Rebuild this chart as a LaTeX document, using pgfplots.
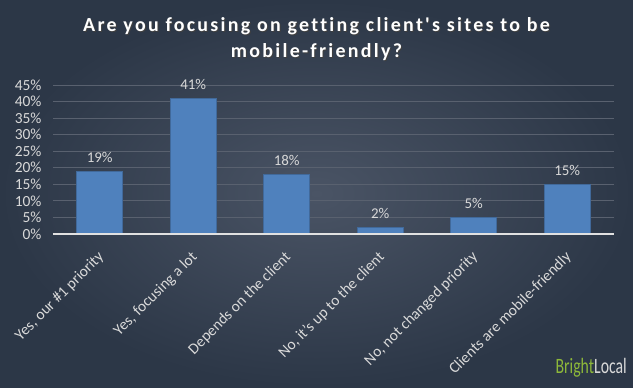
\documentclass[border=0pt]{standalone}
\usepackage{fontspec}
\setmainfont{Carlito}
\newfontfamily\titlefont[LetterSpace=11.5,Ligatures={NoCommon}]{Carlito}
\usepackage{graphicx}
\usepackage{pgfplots}
\pgfplotsset{compat=1.18}
\usetikzlibrary{backgrounds,calc}
\definecolor{bgin}{HTML}{4A5465}
\definecolor{bgout}{HTML}{2C3747}
\definecolor{barblue}{HTML}{4F81BD}
\definecolor{bardark}{HTML}{41699A}
\definecolor{txt}{HTML}{D9D9D9}
\definecolor{gridc}{HTML}{59616F}
\definecolor{blgreen}{HTML}{8DB83A}
\begin{document}
\begin{tikzpicture}[x=1bp,y=1bp]
\begin{axis}[
  name=ax,
  scale only axis, width=561bp, height=149bp,
  ybar, bar width=46bp,
  xmin=-0.5, xmax=5.5, ymin=0, ymax=45,
  xtick=data,
  xticklabels={{Yes, our \#1 priority},{Yes, focusing a lot},{Depends on the client},{No, it's up to the client},{No, not changed priority},{Clients are mobile-friendly}},
  x tick label style={xshift=-3bp, yshift=-16bp, rotate=45, anchor=north east, font=\fontsize{15.5}{17}\selectfont, text=txt, inner sep=0pt},
  ytick={0,5,...,45},
  yticklabel={\pgfmathprintnumber{\tick}\%},
  y tick label style={font=\fontsize{15.5}{17}\selectfont, text=txt, xshift=-8bp},
  /pgf/number format/assume math mode=true,
  ymajorgrids, grid style={gridc, line width=0.8bp},
  major tick length=0pt,
  axis line style={draw=none},
  tick style={draw=none},
  nodes near coords={\pgfmathprintnumber{\pgfplotspointmeta}\%},
  nodes near coords style={font=\fontsize{15}{17}\selectfont, text=txt, yshift=5bp},
  clip=false,
]
\addplot[fill=barblue, draw=bardark, line width=0.6bp] coordinates {(0,19) (1,41) (2,18) (3,2) (4,5) (5,15)};
\draw[color=txt!80, line width=1.5bp] (axis cs:-0.5,0) -- (axis cs:5.5,0);
\coordinate (o) at (rel axis cs:0,0);
\end{axis}
\begin{scope}[on background layer]
\shade[inner color=bgin, outer color=bgout] ($(o)+(-53,-153)$) rectangle ($(o)+(580,234)$);
\end{scope}
\node[font=\titlefont\bfseries\fontsize{20}{26}\selectfont, text=black!75, align=center] at ($(o)+(264.5,193.5)$) {Are you focusing on getting client's sites to be\\mobile-friendly?};
\node[font=\titlefont\bfseries\fontsize{20}{26}\selectfont, text=white, align=center] at ($(o)+(263.5,194.5)$) {Are you focusing on getting client's sites to be\\mobile-friendly?};
\node[anchor=south east, inner sep=0pt, font=\fontsize{22}{24}\selectfont] at ($(o)+(574,-143)$) {\scalebox{0.72}[1]{\textcolor{blgreen}{Bright}\textcolor{txt}{Local}}};
\end{tikzpicture}
\end{document}
